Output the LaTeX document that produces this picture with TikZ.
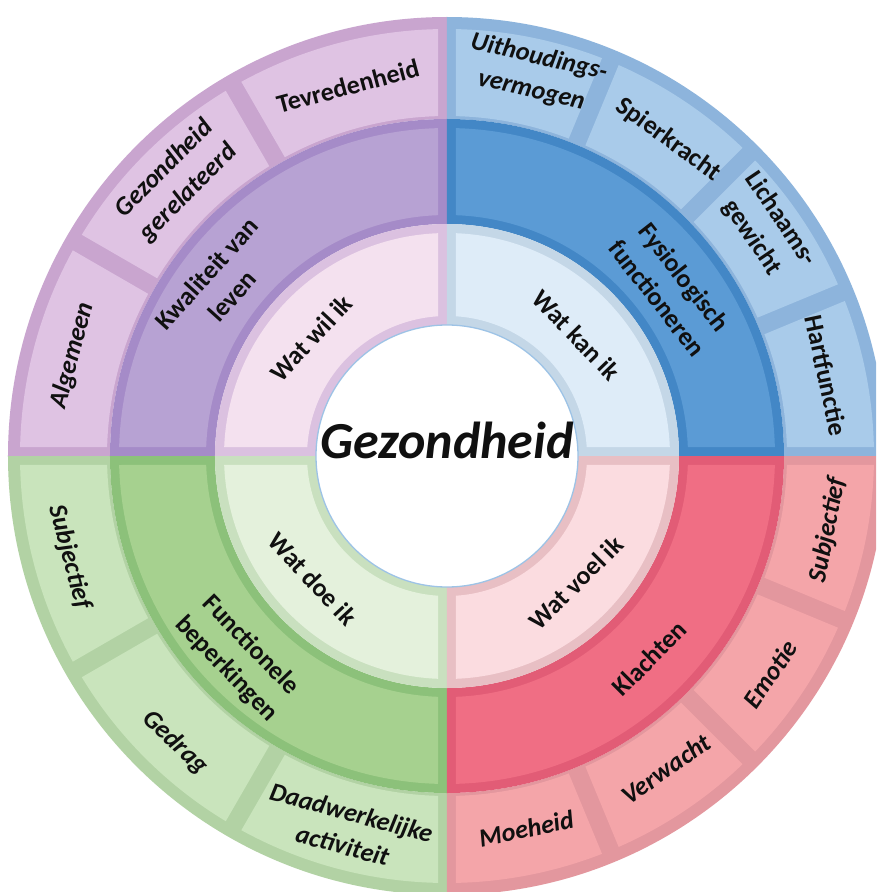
\documentclass[tikz,border=0pt]{standalone}
\usepackage{fontspec}
\setmainfont{Carlito}
% colours
\definecolor{pOb}{HTML}{C9A5CF}\definecolor{pOf}{HTML}{DFC3E3}
\definecolor{pMb}{HTML}{A58BC8}\definecolor{pMf}{HTML}{B7A2D3}
\definecolor{pIb}{HTML}{DBC1E0}\definecolor{pIf}{HTML}{F4E1EF}
\definecolor{bOb}{HTML}{8DB4DC}\definecolor{bOf}{HTML}{A9CBEA}
\definecolor{bMb}{HTML}{4387C6}\definecolor{bMf}{HTML}{5B9BD5}
\definecolor{bIb}{HTML}{C4D7E7}\definecolor{bIf}{HTML}{DEECF8}
\definecolor{gOb}{HTML}{B2D2A4}\definecolor{gOf}{HTML}{C9E4BC}
\definecolor{gMb}{HTML}{8CC17A}\definecolor{gMf}{HTML}{A6D18F}
\definecolor{gIb}{HTML}{C9E0BF}\definecolor{gIf}{HTML}{E4F1DC}
\definecolor{rOb}{HTML}{E3979E}\definecolor{rOf}{HTML}{F4A5A9}
\definecolor{rMb}{HTML}{E25C76}\definecolor{rMf}{HTML}{F06E84}
\definecolor{rIb}{HTML}{E8BFC4}\definecolor{rIf}{HTML}{FBDCE0}
\definecolor{rimblue}{HTML}{9DC3E6}
\definecolor{ink}{HTML}{101010}
% annular segment: a1 a2 r1 r2 inset-in inset-out inset-side colour
\newcommand\ringseg[8]{%
  \pgfmathsetmacro\rIn{#3+#5}%
  \pgfmathsetmacro\rOut{#4-#6}%
  \pgfmathsetmacro\aIa{#1+asin(#7/\rIn)}%
  \pgfmathsetmacro\aIb{#2-asin(#7/\rIn)}%
  \pgfmathsetmacro\aOa{#1+asin(#7/\rOut)}%
  \pgfmathsetmacro\aOb{#2-asin(#7/\rOut)}%
  \fill[#8] (\aOa:\rOut pt) arc[start angle=\aOa, end angle=\aOb, radius=\rOut pt]
    -- (\aIb:\rIn pt) arc[start angle=\aIb, end angle=\aIa, radius=\rIn pt] -- cycle;%
}
% whole quadrant: a1 a2 colour prefix
\newcommand\quadrant[3]{%
  \ringseg{#1}{#2}{337}{439}{0}{0}{0}{#3Ob}%
  \ringseg{#1}{#2}{232}{337}{0}{0}{0}{#3Mb}%
  \ringseg{#1}{#2}{232}{337}{9}{9}{9}{#3Mf}%
  \ringseg{#1}{#2}{131}{232}{0}{0}{0}{#3Ib}%
  \ringseg{#1}{#2}{131}{232}{9}{9}{9}{#3If}%
}
\tikzset{
  lab/.style={font=\bfseries\fontsize{26}{34}\selectfont, text=ink, align=center, inner sep=0pt},
  labi/.style={lab, font=\bfseries\itshape\fontsize{26}{34}\selectfont},
}
\begin{document}
\begin{tikzpicture}
\clip (-447pt,-436pt) rectangle (429pt,456pt);
\fill[white] (-447pt,-436pt) rectangle (429pt,456pt);
% quadrants
\quadrant{90}{180}{p}
\quadrant{0}{90}{b}
\quadrant{180}{270}{g}
\quadrant{270}{360}{r}
% outer ring segments
\foreach \a/\b in {90/120,120/150,150/180}{\ringseg{\a}{\b}{337}{439}{3}{12}{9}{pOf}}
\foreach \a/\b in {0/22.5,22.5/45,45/67.5,67.5/90}{\ringseg{\a}{\b}{337}{439}{3}{12}{9}{bOf}}
\foreach \a/\b in {180/210,210/240,240/270}{\ringseg{\a}{\b}{337}{439}{3}{12}{9}{gOf}}
\foreach \a/\b in {270/292.5,292.5/315,315/337.5,337.5/360}{\ringseg{\a}{\b}{337}{439}{3}{12}{9}{rOf}}
% centre
\node[circle, fill=white, draw=rimblue, line width=1.3pt, minimum size=262pt, inner sep=0pt] (hub) at (0,0) {};
\node[font=\bfseries\itshape\fontsize{52}{56}\selectfont, text=ink, inner sep=0pt] (title) at (0,16pt) {Gezondheid};
% purple quadrant labels
\node[lab, rotate=15]  (tev)  at (105:383pt) {Tevredenheid};
\node[labi, rotate=45] (gez)  at (134.5:386pt) {Gezondheid\\gerelateerd};
\node[labi, rotate=75] (alg)  at (165:388pt) {Algemeen};
\node[lab, rotate=48]  (kwal) at (143:285pt) {Kwaliteit van\\leven};
\node[lab, rotate=47]  (wil)  at (139:180pt) {Wat wil ik};
% blue quadrant labels
\node[labi, rotate=-13] (uit)  at (77:392pt) {Uithoudings-\\vermogen};
\node[lab, rotate=-36]  (spier) at (55:386pt) {Spierkracht};
\node[lab, rotate=-56]  (lich) at (35.5:392pt) {Lichaams-\\gewicht};
\node[lab, rotate=-78]  (hart) at (12:388pt) {Hartfunctie};
\node[lab, rotate=-52]  (fys)  at (37:280pt) {Fysiologisch\\functioneren};
\node[lab, rotate=-46]  (kan)  at (43:177pt) {Wat kan ik};
% red quadrant labels
\node[labi, rotate=12] (moe)  at (-78:381pt) {Moeheid};
\node[labi, rotate=35] (verw) at (-55:382pt) {Verwacht};
\node[labi, rotate=56] (emo)  at (-34:390pt) {Emotie};
\node[labi, rotate=79] (subr) at (-11:388pt) {Subjectief};
\node[lab, rotate=45]  (klacht) at (-45:286pt) {Klachten};
\node[lab, rotate=45]  (voel) at (-44.5:181pt) {Wat voel ik};
% green quadrant labels
\node[labi, rotate=-75]   (subg) at (195:391pt) {Subjectief};
\node[labi, rotate=-43.5] (gedrag) at (226.5:395pt) {Gedrag};
\node[labi, rotate=-15]   (daad) at (255:386pt) {Daadwerkelijke\\activiteit};
\node[lab, rotate=-46]    (func) at (224:290pt) {Functionele\\beperkingen};
\node[lab, rotate=-47]    (doe)  at (222.5:182pt) {Wat doe ik};
\end{tikzpicture}
\end{document}
